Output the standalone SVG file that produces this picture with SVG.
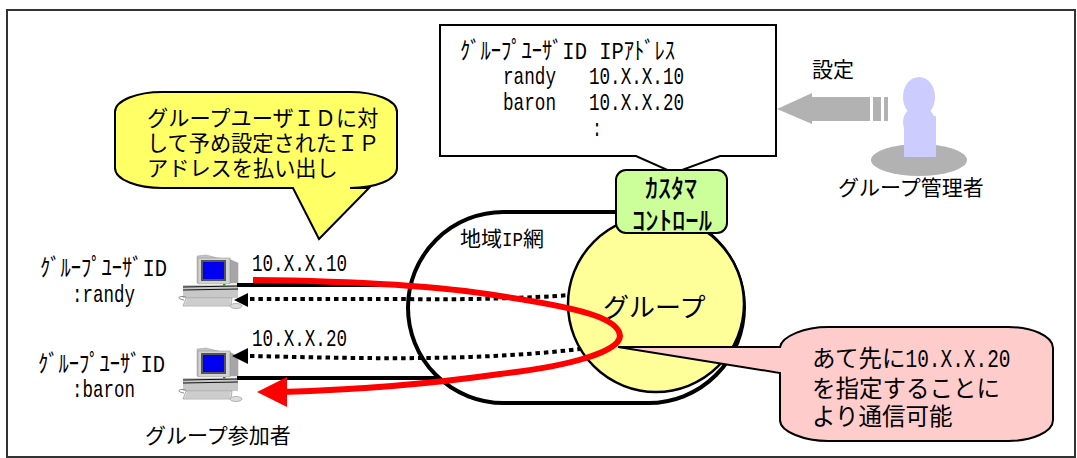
<svg xmlns="http://www.w3.org/2000/svg" width="1077" height="458" viewBox="0 0 1077 458">
<style>
.t{font-family:"Noto Sans CJK JP","Noto Sans",sans-serif;font-size:21px;fill:#000}
.h{font-family:"Liberation Mono","Noto Sans CJK JP",monospace;font-size:24px;fill:#000;white-space:pre}
.k{font-family:"Noto Sans CJK JP",sans-serif;font-size:26px;font-weight:500;fill:#000;white-space:pre}
.d{fill:none;stroke:#000;stroke-width:4;stroke-dasharray:4.5 3.9}
.s{stroke:#000;stroke-width:4;fill:none}
.c{stroke:#000;stroke-width:2}
</style>
<defs>
<g id="pc">
<path d="M197 256L206 255L238 263V283H197Z" fill="#c4c4c4" stroke="#999" stroke-width=".5"/>
<path d="M230 259L238 263V283H230Z" fill="#a6a6a6"/>
<rect x="198" y="258" width="32" height="26" fill="#d2d2d2" stroke="#888" stroke-width=".5"/>
<rect x="201" y="260" width="25" height="21" fill="#555"/>
<rect x="203" y="262" width="21" height="17" fill="#0000ee"/>
<rect x="198" y="284" width="40" height="2" fill="#eee"/>
<rect x="183" y="285" width="55" height="13" fill="#c8c8c8"/>
<path d="M183 287L238 286M183 290L238 289" stroke="#111" stroke-width="1.2"/>
<rect x="223" y="284" width="2.5" height="1.5" fill="#0a0"/>
<path d="M186 298H232L231 306H183Z" fill="#ddd" stroke="#999" stroke-width=".7"/>
<path d="M187 300H230M186 302H230M185 304H230" stroke="#aaa" stroke-width=".6"/>
<path d="M186 297C178 295 176 299 184 300" fill="none" stroke="#888"/>
<ellipse cx="236" cy="306" rx="6" ry="2.5" fill="#ddd" stroke="#999" stroke-width=".7"/>
</g>
</defs>
<rect id="frame" x="7" y="10" width="1068" height="447" fill="#fff" stroke="#333" stroke-width="2"/>
<g id="group-user-randy">
<use href="#pc"/>
<text class="h" x="40" y="276" textLength="127" lengthAdjust="spacingAndGlyphs">ｸﾞﾙｰﾌﾟﾕｰｻﾞID</text>
<text class="h" x="72" y="302" textLength="63" lengthAdjust="spacingAndGlyphs">:randy</text>
</g>
<g id="group-user-baron">
<use href="#pc" y="93"/>
<text class="h" x="38" y="372" textLength="127" lengthAdjust="spacingAndGlyphs">ｸﾞﾙｰﾌﾟﾕｰｻﾞID</text>
<text class="h" x="72" y="397" textLength="63" lengthAdjust="spacingAndGlyphs">:baron</text>
<text class="t" x="145" y="443">グループ参加者</text>
</g>
<g id="connectors-back">
<path class="s" d="M237 285H420M237 378H445"/>
</g>
<g id="network">
<rect x="408" y="212" width="336" height="191" rx="95.5" fill="#fff" stroke="#000" stroke-width="4"/>
<text class="t" x="460" y="246">地域<tspan class="h" style="font-size:21px" textLength="21" lengthAdjust="spacingAndGlyphs">IP</tspan>網</text>
</g>
<g id="connectors">
<path class="d" d="M250 299H400C470 300 530 298 570 295"/>
<path class="d" d="M250 356C350 358 470 362 580 349"/>
<path d="M234 300L248 293V307Z" fill="#000"/>
<path d="M232 356L248 348V364Z" fill="#000"/>
</g>
<g id="group">
<circle cx="656" cy="304" r="88" fill="#ffff99" stroke="#000" stroke-width="2.5"/>
<text class="t" x="603" y="317" style="font-size:26px">グループ</text>
</g>
<g id="connector-red">
<path d="M253 280C350 281 440 286 500 296C580 308 619 318 620 336C619 352 570 366 500 374C430 384 350 390 282 392" fill="none" stroke="#f00" stroke-width="6"/>
<path d="M257 392L287 377V407Z" fill="#f00"/>
<text class="h" x="252" y="271" textLength="95" lengthAdjust="spacingAndGlyphs">10.X.X.10</text>
<text class="h" x="252" y="346" textLength="95" lengthAdjust="spacingAndGlyphs">10.X.X.20</text>
</g>
<g id="callout-yellow">
<path class="c" d="M115 112C115 100 138 92 162 92H350C375 92 397 100 397 112V168C397 180 375 188 350 188H369L319 239L293 188H162C138 188 115 180 115 168Z" fill="#ffff66"/>
<text class="t" x="147" y="126" style="font-size:21.2px">グループユーザＩＤに対</text>
<text class="t" x="147" y="151" style="font-size:21.2px">して予め設定されたＩＰ</text>
<text class="t" x="147" y="176" style="font-size:21.2px">アドレスを払い出し</text>
</g>
<g id="callout-settings">
<path class="c" d="M440 25H776V156H720L674 173L636 156H440Z" fill="#fff"/>
<text class="h" x="460" y="59" textLength="215" lengthAdjust="spacingAndGlyphs">ｸﾞﾙｰﾌﾟﾕｰｻﾞID IPｱﾄﾞﾚｽ</text>
<text class="h" x="503" y="84" textLength="53" lengthAdjust="spacingAndGlyphs">randy</text>
<text class="h" x="589" y="84" textLength="95" lengthAdjust="spacingAndGlyphs">10.X.X.10</text>
<text class="h" x="503" y="110" textLength="53" lengthAdjust="spacingAndGlyphs">baron</text>
<text class="h" x="589" y="110" textLength="95" lengthAdjust="spacingAndGlyphs">10.X.X.20</text>
<text class="h" x="592" y="136" textLength="10" lengthAdjust="spacingAndGlyphs">:</text>
</g>
<g id="customer-control">
<rect x="616" y="170" width="111" height="63" rx="10" fill="#ccff99" stroke="#000" stroke-width="2"/>
<text class="k" x="645" y="198" textLength="52" lengthAdjust="spacingAndGlyphs">ｶｽﾀﾏ</text>
<text class="k" x="632" y="230" textLength="80" lengthAdjust="spacingAndGlyphs">ｺﾝﾄﾛｰﾙ</text>
</g>
<g id="callout-pink">
<path class="c" d="M780 347C782 336 805 327 828 327H1008C1032 327 1053 336 1053 348V420C1053 432 1032 441 1008 441H828C805 441 780 432 780 420V373L618 347Z" fill="#ffcccc"/>
<text class="t" x="812" y="367" style="font-size:23.5px">あて先に<tspan class="h" style="font-size:26px" textLength="105" lengthAdjust="spacingAndGlyphs">10.X.X.20</tspan></text>
<text class="t" x="812" y="397" style="font-size:23.5px">を指定することに</text>
<text class="t" x="812" y="425" style="font-size:23.5px">より通信可能</text>
</g>
<g id="admin">
<ellipse cx="919" cy="160" rx="48" ry="16" fill="#b2b2b2"/>
<ellipse cx="919" cy="97" rx="16" ry="20" fill="#ccccff"/>
<ellipse cx="919" cy="122" rx="16" ry="16" fill="#ccccff"/>
<rect x="904" y="116" width="32" height="41" fill="#ccccff"/>
<text class="t" x="838" y="195">グループ管理者</text>
</g>
<g id="settings-arrow">
<path d="M777 109L812 93V97H870V121H812V124Z" fill="#b2b2b2"/>
<rect x="873" y="97" width="8" height="24" fill="#b2b2b2"/>
<rect x="884" y="97" width="4" height="24" fill="#b2b2b2"/>
<text class="t" x="812" y="77">設定</text>
</g>
</svg>
